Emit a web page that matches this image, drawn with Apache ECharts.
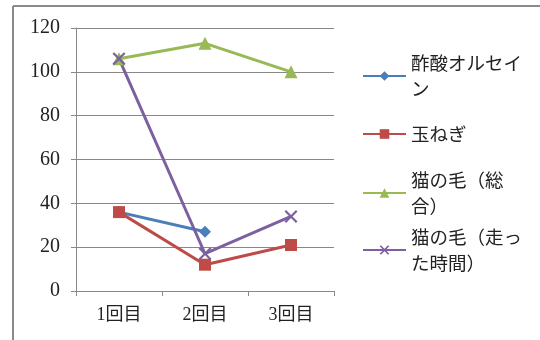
<!DOCTYPE html>
<html><head><meta charset="utf-8">
<script src="https://cdn.jsdelivr.net/npm/echarts@6/dist/echarts.min.js"></script>
<style>html,body{margin:0;padding:0;background:#fff}#c{width:540px;height:340px}</style>
</head><body><div id="c"></div>
<script>
const categories = ['1回目', '2回目', '3回目'];
const names = ['酢酸オルセイン', '玉ねぎ', '猫の毛（総合）', '猫の毛（走った時間）'];
const legendLabels = ['酢酸オルセイ\nン', '玉ねぎ', '猫の毛（総\n合）', '猫の毛（走っ\nた時間）'];
const acetoOrcein = [36, 27, null];
const onion = [36, 12, 21];
const catTotal = [106, 113, 100];
const catRun = [106, 17, 34];
const yTicks = {min: 0, max: 120, interval: 20};

const colors = ['#4A7EBB', '#BE4B48', '#98B954', '#7D60A0'];
const serif = '"Liberation Serif", "Noto Sans CJK JP", serif';
const cjk = '"Noto Sans CJK JP", sans-serif';
const xPath = 'path://M0,1.2 L1.2,0 L5,3.8 L8.8,0 L10,1.2 L6.2,5 L10,8.8 L8.8,10 L5,6.2 L1.2,10 L0,8.8 L3.8,5 Z';
const symbols = ['diamond', 'rect', 'triangle', xPath];
const sizes = [12, 12, 13, 13];
const dataSets = [acetoOrcein, onion, catTotal, catRun];
const legendTops = [37, 121, 154, 211];
const multi = [true, false, true, true];

const chart = echarts.init(document.getElementById('c'), null, {renderer: 'canvas'});
chart.setOption({
  backgroundColor: '#fff',
  animation: false,
  grid: {left: 76, top: 28, right: 206, bottom: 49, containLabel: false},
  xAxis: {
    type: 'category', data: categories, boundaryGap: true,
    axisLine: {lineStyle: {color: '#888', width: 1}},
    axisTick: {show: true, length: 5, lineStyle: {color: '#888'}},
    axisLabel: {margin: 15, fontSize: 18, color: '#222', fontFamily: serif}
  },
  yAxis: {
    type: 'value', min: yTicks.min, max: yTicks.max, interval: yTicks.interval,
    axisLine: {show: true, lineStyle: {color: '#888', width: 1}},
    axisTick: {show: true, length: 5, lineStyle: {color: '#888'}},
    splitLine: {lineStyle: {color: '#888', width: 1}},
    axisLabel: {margin: 16, fontSize: 20, color: '#222', fontFamily: serif}
  },
  legend: names.map((n, i) => ({
    data: [n], orient: 'vertical', left: 362, top: legendTops[i], padding: 0,
    itemWidth: 43, itemHeight: 12, itemGap: 4,
    formatter: () => legendLabels[i],
    textStyle: {fontSize: 18.5, lineHeight: 26, color: '#222', fontFamily: cjk,
      padding: multi[i] ? [26, 0, 0, 0] : 0}
  })),
  series: names.map((n, i) => ({
    name: n, type: 'line', data: dataSets[i],
    symbol: symbols[i], symbolSize: sizes[i],
    lineStyle: {color: colors[i], width: 3},
    itemStyle: {color: colors[i]},
    connectNulls: false
  })),
  graphic: [
    {type: 'line', shape: {x1: 13, y1: 6, x2: 540, y2: 6}, style: {stroke: '#8a8a8a', lineWidth: 2}},
    {type: 'line', shape: {x1: 13, y1: 6, x2: 13, y2: 340}, style: {stroke: '#8a8a8a', lineWidth: 2}}
  ]
});
</script></body></html>
